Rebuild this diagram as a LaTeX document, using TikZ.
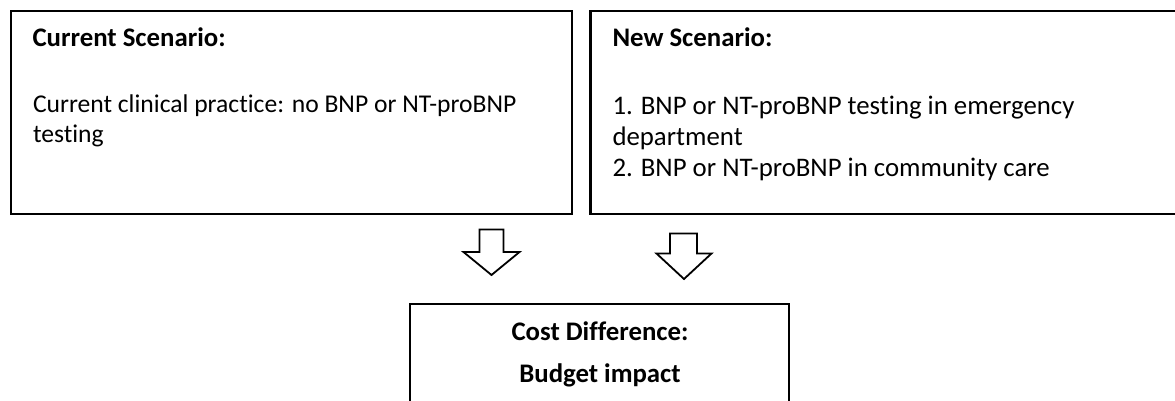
\documentclass[tikz,border=0pt]{standalone}
\usepackage{fontspec}
\setmainfont{Carlito}[Ligatures={NoCommon}]
\begin{document}
\begin{tikzpicture}[x=1pt,y=-1pt,
  box/.style={draw=black,line width=2.6pt},
  txt/.style={inner sep=0pt,outer sep=0pt,anchor=base west,
    font=\fontsize{26.8}{31}\selectfont},
  btxt/.style={txt,font=\fontsize{26.8}{31}\selectfont\bfseries},
  ctxt/.style={inner sep=0pt,outer sep=0pt,anchor=base,
    font=\fontsize{26.8}{31}\selectfont\bfseries},
  blockarrow/.style={draw=black,fill=white,line width=1.8pt,line join=miter}]
\useasboundingbox (0,0) rectangle (1175,400);
\clip (0,0) rectangle (1175,400);

% scenario boxes
\draw[box] (11,11) rectangle (572,214);
\draw[box] (590.5,11) rectangle (1178,214);
% result box, running past the lower edge
\draw[box] (410,304) rectangle (789,420);

% current scenario
\node[btxt] (curT) at (32.5,46) {Current Scenario:};
\node[txt,font=\fontsize{25.6}{31}\selectfont] (curB1) at (33,112) {Current clinical practice: no BNP or NT-proBNP};
\node[txt,font=\fontsize{25.6}{31}\selectfont] (curB2) at (33,142) {testing};

% new scenario
\node[btxt] (newT) at (612.5,46.5) {New Scenario:};
\node[txt] (newB1) at (612.5,114) {1. BNP or NT-proBNP testing in emergency};
\node[txt] (newB2) at (612.5,145) {department};
\node[txt] (newB3) at (612.5,176) {2. BNP or NT-proBNP in community care};

% result
\node[ctxt] (costT) at (600,340) {Cost Difference:};
\node[ctxt] (costB) at (600,382) {Budget impact};

% hollow block arrows
\draw[blockarrow] (479.5,229.5) -- (503.5,229.5) -- (503.5,252) -- (519.5,252)
  -- (491.5,275) -- (463.5,252) -- (479.5,252) -- cycle;
\draw[blockarrow] (670,233.5) -- (697,233.5) -- (697,253.5) -- (711.5,253.5)
  -- (684,279) -- (656.5,253.5) -- (670,253.5) -- cycle;
\end{tikzpicture}
\end{document}
